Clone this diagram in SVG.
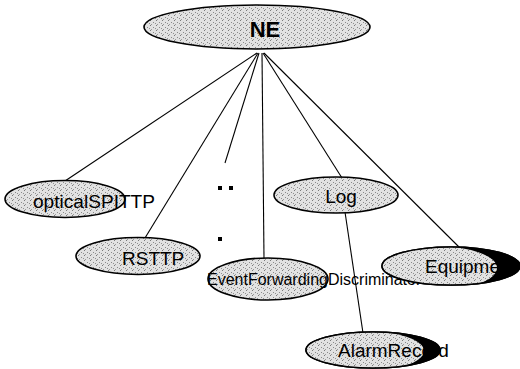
<svg xmlns="http://www.w3.org/2000/svg" width="520" height="369" viewBox="0 0 520 369">
<defs>
<pattern id="stip" width="6" height="5" patternUnits="userSpaceOnUse">
<rect width="6" height="5" fill="#e2e2e2"/>
<rect x="0" y="0" width="1" height="1" fill="#7a7a7a"/>
<rect x="3" y="2" width="1" height="1" fill="#8a8a8a"/>
<rect x="1" y="4" width="1" height="1" fill="#9a9a9a"/>
<rect x="5" y="3" width="1" height="1" fill="#909090"/>
</pattern>
<clipPath id="clipEq"><ellipse cx="451" cy="266" rx="69" ry="19"/></clipPath>
<clipPath id="clipAl"><ellipse cx="373" cy="350" rx="67" ry="18"/></clipPath>
<style>
.node{fill:url(#stip);stroke:#000;stroke-width:1.6}
.inner{fill:url(#stip);stroke:none}
.dark{fill:#000;stroke:#000;stroke-width:1.6}
.lbl{font-family:"Liberation Sans",Arial,sans-serif;font-size:19px;fill:#000}
.edge{stroke:#000;stroke-width:1.1;fill:none}
.dot{fill:#000}
</style>
</defs>
<g id="connectors">
<line class="edge" x1="257" y1="53" x2="65" y2="181"/>
<line class="edge" x1="258" y1="53" x2="145" y2="238"/>
<line class="edge" x1="259" y1="53" x2="225" y2="163"/>
<line class="edge" x1="262" y1="53" x2="264" y2="259"/>
<line class="edge" x1="263" y1="53" x2="342" y2="178"/>
<line class="edge" x1="264" y1="53" x2="462" y2="250"/>
<line class="edge" x1="345" y1="212" x2="363" y2="333"/>
</g>
<g id="NE">
<ellipse class="node" cx="257" cy="27" rx="113" ry="22"/>
<text class="lbl" x="265" y="37" text-anchor="middle" font-weight="bold" style="font-size:22px">NE</text>
</g>
<g id="opticalSPITTP">
<ellipse class="node" cx="65" cy="199" rx="60" ry="18.5"/>
<text class="lbl" x="33" y="208" textLength="122" lengthAdjust="spacingAndGlyphs">opticalSPITTP</text>
</g>
<g id="RSTTP">
<ellipse class="node" cx="138" cy="256" rx="62" ry="18.5"/>
<text class="lbl" x="122" y="265">RSTTP</text>
</g>
<g id="ellipsis">
<rect class="dot" x="218" y="186" width="4" height="4"/>
<rect class="dot" x="229" y="186" width="4" height="4"/>
<rect class="dot" x="218" y="237" width="4" height="4"/>
</g>
<g id="EventForwardingDiscriminator">
<ellipse class="node" cx="268" cy="279" rx="60" ry="21"/>
<text class="lbl" x="207" y="285" style="font-size:16px">EventForwardingDiscriminator</text>
</g>
<g id="Log">
<ellipse class="node" cx="336" cy="195" rx="62" ry="18"/>
<text class="lbl" x="341" y="203" text-anchor="middle">Log</text>
</g>
<g id="Equipment">
<ellipse class="dark" cx="451" cy="266" rx="69" ry="19"/>
<ellipse class="inner" cx="436" cy="268" rx="61" ry="22" clip-path="url(#clipEq)"/>
<ellipse cx="451" cy="266" rx="69" ry="19" fill="none" stroke="#000" stroke-width="1.6"/>
<text class="lbl" x="425" y="273">Equipment</text>
</g>
<g id="AlarmRecord">
<ellipse class="dark" cx="373" cy="350" rx="67" ry="18"/>
<ellipse class="inner" cx="364" cy="351" rx="60" ry="20" clip-path="url(#clipAl)"/>
<ellipse cx="373" cy="350" rx="67" ry="18" fill="none" stroke="#000" stroke-width="1.6"/>
<text class="lbl" x="338" y="357">AlarmRecord</text>
</g>
</svg>
